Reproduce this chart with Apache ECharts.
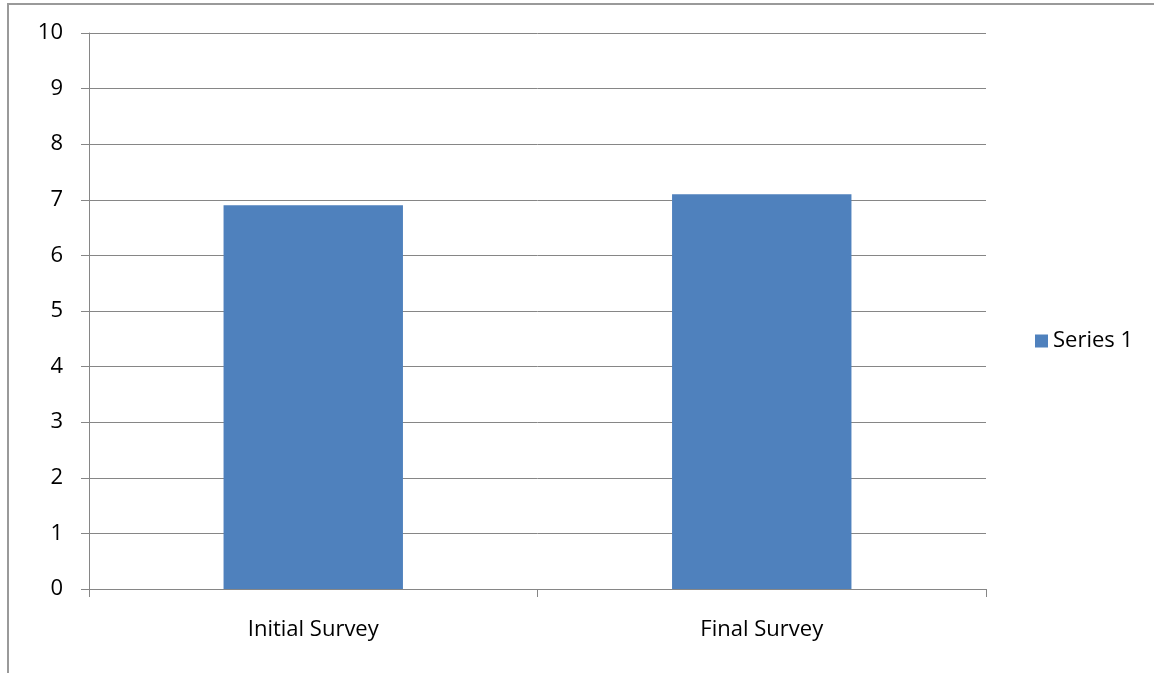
<!DOCTYPE html>
<html>
<head>
<meta charset="utf-8">
<script src="https://cdn.jsdelivr.net/npm/echarts@6/dist/echarts.min.js"></script>
<style>
  html, body { margin: 0; padding: 0; background: #fff; }
  #chart { width: 1154px; height: 673px; }
</style>
</head>
<body>
<div id="chart"></div>
<script>
// Survey categories and their scores
const categories = ['Initial Survey', 'Final Survey'];
const series1 = [6.9, 7.1];
const seriesName = 'Series 1';

const chart = echarts.init(document.getElementById('chart'));
const font = '"Open Sans", "Noto Sans", sans-serif';

chart.setOption({
  animation: false,
  backgroundColor: '#fff',
  graphic: [{
    type: 'rect',
    shape: { x: 8, y: 4, width: 1300, height: 800 },
    style: { fill: 'none', stroke: '#9a9a9a', lineWidth: 2 },
    silent: true
  }],
  grid: { left: 89, top: 33, right: 168, bottom: 84, containLabel: false },
  legend: {
    data: [seriesName],
    orient: 'vertical',
    left: 1030,
    top: 325,
    itemWidth: 13,
    itemHeight: 13,
    icon: 'rect',
    textStyle: { fontFamily: font, fontSize: 22, color: '#000' }
  },
  xAxis: {
    type: 'category',
    data: categories,
    axisLine: { lineStyle: { color: '#868686', width: 1 } },
    axisTick: { show: true, length: 8, inside: false, lineStyle: { color: '#868686' } },
    axisLabel: { fontFamily: font, fontSize: 22, color: '#000', margin: 30 },
    splitLine: { show: false }
  },
  yAxis: {
    type: 'value',
    min: 0,
    max: 10,
    interval: 1,
    axisLine: { show: true, lineStyle: { color: '#868686', width: 1 } },
    axisTick: { show: true, length: 8, lineStyle: { color: '#868686' } },
    axisLabel: { fontFamily: font, fontSize: 22, color: '#000', margin: 26 },
    splitLine: { show: true, lineStyle: { color: '#868686', width: 1 } }
  },
  series: [{
    name: seriesName,
    type: 'bar',
    data: series1,
    barWidth: '40%',
    itemStyle: { color: '#4F81BD' }
  }]
});
</script>
</body>
</html>
